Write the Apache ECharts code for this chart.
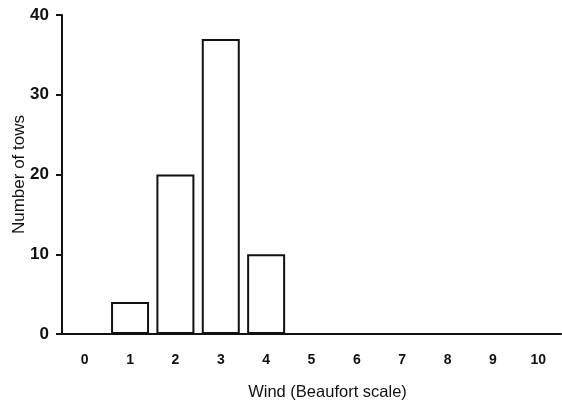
<!DOCTYPE html>
<html>
<head>
<meta charset="utf-8">
<script src="https://cdn.jsdelivr.net/npm/echarts@6/dist/echarts.min.js"></script>
<style>
  html, body { margin: 0; padding: 0; background: #fff; }
  #chart-container { width: 562px; height: 401px; }
</style>
</head>
<body>
<div id="chart-container"></div>
<script>
// wind force on the Beaufort scale and how many tows were made at each
var windForce = ['0', '1', '2', '3', '4', '5', '6', '7', '8', '9', '10'];
var towCounts = [0, 4, 20, 37, 10, 0, 0, 0, 0, 0, 0];
var countTicks = [0, 10, 20, 30, 40];

var dom = document.getElementById('chart-container');
var myChart = echarts.init(dom, null, {
    renderer: 'canvas',
    useDirtyRect: false
});

var ink = '#111';
var font = 'Liberation Sans, Arial, sans-serif';

var option = {
    animation: false,
    backgroundColor: '#fff',
    grid: {
        left: 62,
        right: 1,
        top: 15,
        bottom: 67,
        containLabel: false,
        outerBoundsMode: 'none'
    },
    xAxis: {
        type: 'category',
        data: windForce,
        name: 'Wind (Beaufort scale)',
        nameLocation: 'middle',
        nameGap: 50,
        nameMoveOverlap: false,
        nameTextStyle: {
            color: ink,
            fontFamily: font,
            fontSize: 16.5,
            padding: [0, 0, 0, 32]
        },
        axisLine: { lineStyle: { color: ink, width: 2 } },
        axisTick: { alignWithLabel: true, length: 6, lineStyle: { color: ink, width: 2 } },
        axisLabel: {
            color: ink,
            fontFamily: font,
            fontWeight: 'bold',
            fontSize: 14,
            margin: 19
        },
        splitLine: { show: false }
    },
    yAxis: {
        type: 'value',
        min: countTicks[0],
        max: countTicks[countTicks.length - 1],
        interval: 10,
        name: 'Number of tows',
        nameLocation: 'middle',
        nameGap: 34,
        nameMoveOverlap: false,
        nameTextStyle: {
            color: ink,
            fontFamily: font,
            fontSize: 17
        },
        axisLine: { show: true, lineStyle: { color: ink, width: 2 } },
        axisTick: { show: true, length: 6, lineStyle: { color: ink, width: 2 } },
        axisLabel: {
            color: ink,
            fontFamily: font,
            fontWeight: 'bold',
            fontSize: 17,
            margin: 13
        },
        splitLine: { show: false }
    },
    series: [
        {
            type: 'bar',
            data: towCounts,
            barWidth: 38,
            itemStyle: {
                color: '#fff',
                borderColor: ink,
                borderWidth: 2
            }
        }
    ]
};

myChart.setOption(option);
window.addEventListener('resize', myChart.resize);
</script>
</body>
</html>
